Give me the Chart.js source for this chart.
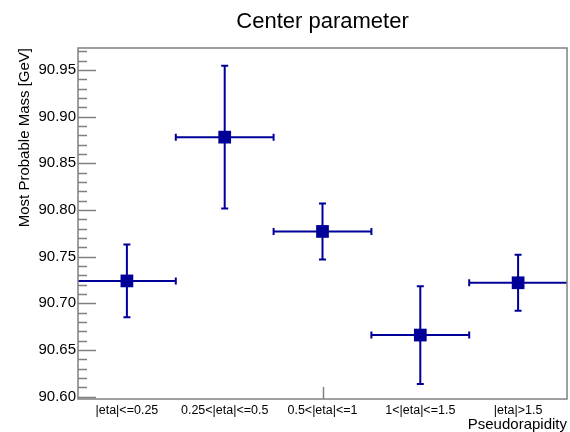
<!DOCTYPE html>
<html>
<head>
<meta charset="utf-8">
<title>Center parameter</title>
<script src="https://cdn.jsdelivr.net/npm/chart.js@4.4.1/dist/chart.umd.min.js"></script>
<style>
  html, body { margin: 0; padding: 0; background: #fff; }
  #wrap { width: 570px; height: 432px; }
</style>
</head>
<body>
<div id="wrap"><canvas id="chart" width="570" height="432"></canvas></div>
<script>
// dados
const categories = ["|eta|<=0.25", "0.25<|eta|<=0.5", "0.5<|eta|<=1", "1<|eta|<=1.5", "|eta|>1.5"];
const values = [90.724, 90.878, 90.777, 90.666, 90.722];
const yErrors = [0.039, 0.0765, 0.030, 0.0523, 0.030];
const xErrors = [0.5, 0.5, 0.5, 0.5, 0.5];
const yTicks = [90.60, 90.65, 90.70, 90.75, 90.80, 90.85, 90.90, 90.95];
const yMinorStep = 0.01;
const xAxisTicks = [2];

const FONT = "'Liberation Sans', Arial, Helvetica, sans-serif";
const MARK = "#000099";
const AXIS = "#808080";

// barras de erro + moldura estilo ROOT
const rootStyle = {
  id: "rootStyle",
  beforeDatasetsDraw(chart) {
    const { ctx, scales: { x, y } } = chart;
    ctx.save();
    ctx.strokeStyle = MARK;
    ctx.lineWidth = 2;
    const cap = 3.5;
    values.forEach((v, i) => {
      const px = x.getPixelForValue(i);
      const py = y.getPixelForValue(v);
      const top = y.getPixelForValue(v + yErrors[i]);
      const bot = y.getPixelForValue(v - yErrors[i]);
      const lo = i - xErrors[i], hi = i + xErrors[i];
      const left = x.getPixelForValue(lo);
      const right = x.getPixelForValue(hi);
      ctx.beginPath();
      ctx.moveTo(px, top); ctx.lineTo(px, bot);
      ctx.moveTo(left, py); ctx.lineTo(right, py);
      ctx.moveTo(px - cap, top); ctx.lineTo(px + cap, top);
      ctx.moveTo(px - cap, bot); ctx.lineTo(px + cap, bot);
      if (lo > x.min) { ctx.moveTo(left, py - cap); ctx.lineTo(left, py + cap); }
      if (hi < x.max) { ctx.moveTo(right, py - cap); ctx.lineTo(right, py + cap); }
      ctx.stroke();
    });
    ctx.restore();
  },
  afterDraw(chart) {
    const { ctx, chartArea: a, scales: { x, y } } = chart;
    ctx.save();
    ctx.strokeStyle = AXIS;
    ctx.lineWidth = 1.5;
    ctx.strokeRect(a.left, a.top, a.right - a.left, a.bottom - a.top);
    ctx.beginPath();
    // ticks menores e maiores do eixo y (para dentro)
    for (let k = Math.ceil(y.min / yMinorStep); k * yMinorStep <= y.max; k++) {
      const v = +(k * yMinorStep).toFixed(2);
      const py = Math.round(y.getPixelForValue(v)) + 0.5;
      const major = yTicks.some(t => Math.abs(t - v) < 1e-6);
      ctx.moveTo(a.left, py);
      ctx.lineTo(a.left + (major ? 18 : 9), py);
    }
    xAxisTicks.forEach(t => {
      const px = Math.round(x.getPixelForValue(t)) + 0.5;
      ctx.moveTo(px, a.bottom);
      ctx.lineTo(px, a.bottom - 12);
    });
    ctx.stroke();
    ctx.restore();
  }
};

new Chart(document.getElementById("chart"), {
  type: "scatter",
  data: {
    datasets: [{
      data: values.map((v, i) => ({ x: i, y: v })),
      pointStyle: "rect",
      pointRadius: 9,
      pointBackgroundColor: MARK,
      pointBorderColor: MARK,
      pointBorderWidth: 0,
      showLine: false
    }]
  },
  options: {
    responsive: false,
    animation: false,
    layout: { autoPadding: false, padding: { left: 0, right: 3, top: 0, bottom: 0 } },
    plugins: {
      legend: { display: false },
      tooltip: { enabled: false },
      title: {
        display: true,
        fullSize: false,
        text: "Center parameter",
        color: "#000",
        font: { family: FONT, size: 22, weight: "normal" },
        padding: { top: 8.6, bottom: 13 }
      }
    },
    scales: {
      x: {
        type: "linear",
        min: -0.5,
        max: 4.5,
        grid: { display: false, drawTicks: false },
        border: { display: false },
        afterBuildTicks: s => { s.ticks = categories.map((c, i) => ({ value: i })); },
        afterFit: s => { s.height = 33; s.paddingLeft = 0; s.paddingRight = 0; },
        ticks: {
          autoSkip: false,
          maxRotation: 0,
          padding: 4,
          color: "#000",
          font: { family: FONT, size: 12.5 },
          callback: v => categories[v]
        },
        title: {
          display: true,
          text: "Pseudorapidity",
          align: "end",
          color: "#000",
          font: { family: FONT, size: 15 },
          padding: { top: 0, bottom: -2 }
        }
      },
      y: {
        min: 90.5975,
        max: 90.9735,
        grid: { display: false, drawTicks: false },
        border: { display: false },
        afterBuildTicks: s => { s.ticks = yTicks.map(v => ({ value: v })); },
        afterFit: s => { s.width = 78; s.paddingTop = 0; s.paddingBottom = 0; },
        ticks: {
          padding: 2,
          color: "#000",
          font: { family: FONT, size: 15 },
          callback: v => v.toFixed(2)
        },
        title: {
          display: true,
          text: "Most Probable Mass [GeV]",
          align: "end",
          color: "#000",
          font: { family: FONT, size: 15 },
          padding: { top: 16, bottom: 0 }
        }
      }
    }
  },
  plugins: [rootStyle]
});
</script>
</body>
</html>
